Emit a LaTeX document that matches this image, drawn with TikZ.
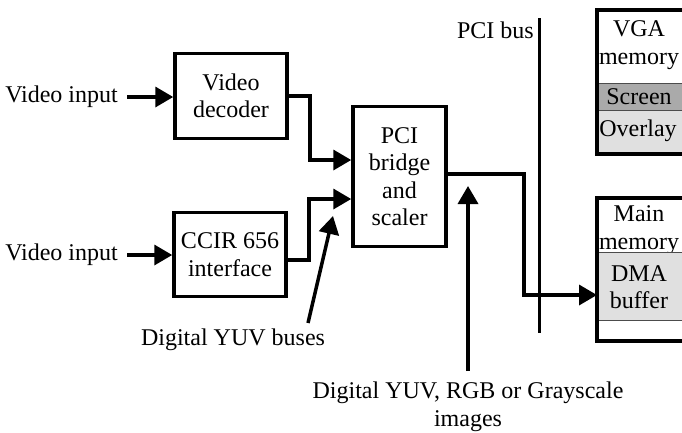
\documentclass[tikz,border=0pt]{standalone}
\usepackage{fontspec}
\setmainfont{Liberation Serif}
\usetikzlibrary{arrows.meta,calc}
\definecolor{darkfill}{RGB}{170,170,170}
\definecolor{lightfill}{RGB}{224,224,224}
\begin{document}
\begin{tikzpicture}[x=1pt,y=-1pt,
  font=\fontsize{24}{27.5}\selectfont,
  blk/.style={draw,line width=3.5pt,align=center,inner sep=0pt},
  arr/.style={line width=3.5pt,-{Triangle[length=18pt,width=20pt]}},
  cell/.style={draw=black!70,line width=0.8pt,minimum width=100pt,inner sep=0pt,anchor=north west,align=center},
  lbl/.style={inner sep=0pt,align=center}]
\useasboundingbox (0,0) rectangle (682,432);
\begin{scope}
\clip (0,0) rectangle (682,432);
% boxes
\node[blk,minimum width=112pt,minimum height=85pt] (vd) at (231,96) {Video\\decoder};
\node[blk,minimum width=112pt,minimum height=84pt] (ccir) at (230,254.5) {CCIR 656\\interface};
\node[blk,minimum width=93pt,minimum height=140pt] (pci) at (399.5,176.5) {PCI\\bridge\\and\\scaler};
% VGA memory stack
\node[cell,minimum height=73pt,fill=white] (vga) at (597,10) {};
\node[lbl] at (639,45) {VGA\\memory};
\node[cell,minimum height=27pt,fill=darkfill] (scr) at (597,83) {};
\node[lbl] at (639,97) {Screen};
\node[cell,minimum height=43pt,fill=lightfill] (ovl) at (597,110) {};
\node[lbl] at (638,131) {Overlay};
\draw[line width=3.5pt] (vga.north east) -- (vga.north west) -- (ovl.south west) -- (ovl.south east);
% main memory stack
\node[cell,minimum height=54pt,fill=white] (mm) at (597,198) {};
\node[lbl] at (639,230) {Main\\memory};
\node[cell,minimum height=68pt,fill=lightfill] (dma) at (597,252) {};
\node[lbl] at (639,287) {DMA\\buffer};
\node[cell,minimum height=20pt,fill=white] (blank) at (597,320) {};
\draw[line width=3.5pt] (mm.north east) -- (mm.north west) -- (blank.south west) -- (blank.south east);
\end{scope}
% labels
\node[lbl,anchor=east] (in1) at (118,97) {Video input};
\node[lbl,anchor=east] (in2) at (118,255) {Video input};
\node[lbl,anchor=east] (pcibus) at (534,30) {PCI bus};
\node[lbl] (yuvb) at (233,340) {Digital YUV buses};
\node[lbl] (imgs) at (468,407) {Digital YUV, RGB or Grayscale\\images};
% PCI bus line
\coordinate (bustop) at (539,18);
\coordinate (busbot) at (539,333);
\draw[line width=3pt] (bustop) -- (busbot);
% inputs
\draw[arr] ([xshift=9pt]in1.east) -- (vd.west |- in1.east);
\draw[arr] ([xshift=9pt]in2.east) -- (ccir.west |- in2.east);
% to pci
\coordinate (p1) at (pci.west |- 0,160);
\coordinate (p2) at (pci.west |- 0,199);
\draw[arr] (vd.east) -- ++(21,0) |- (p1);
\draw[arr] (ccir.east |- 0,260) -- ++(21,0) |- (p2);
% pci to main memory
\coordinate (dmain) at (mm.west |- 0,295);
\draw[arr] (pci.east |- 0,174) -- (524,174) |- (dmain);
% annotation arrows
\coordinate (yuvtail) at (308,323);
\coordinate (yuvtip) at (333,216);
\draw[arr] (yuvtail) -- (yuvtip);
\coordinate (imgtail) at (468,371);
\coordinate (imgtip) at (468,186);
\draw[arr] (imgtail) -- (imgtip);
\end{tikzpicture}
\end{document}
